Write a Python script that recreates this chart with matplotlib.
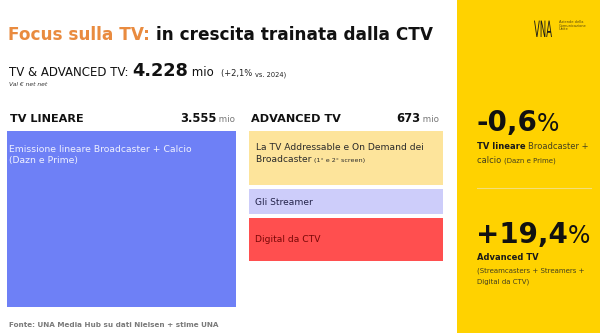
import matplotlib.pyplot as plt
from matplotlib.patches import Rectangle, PathPatch
from matplotlib.textpath import TextPath
from matplotlib.font_manager import FontProperties
from matplotlib.transforms import Affine2D

# valori (mln €)
totale = 4228
crescita_totale = "+2,1%"
tv_lineare = 3555
advanced_tv = 673
advanced_segmenti = ["La TV Addressable e On Demand dei\nBroadcaster", "Gli Streamer", "Digital da CTV"]
advanced_valori = [298, 138, 237]   # stima della ripartizione
var_lineare = "-0,6"
var_advanced = "+19,4"

plt.rcParams["font.family"] = ["DejaVu Sans"]

W, H = 600, 333
fig = plt.figure(figsize=(W / 100, H / 100), dpi=100)
ax = fig.add_axes([0, 0, 1, 1])
ax.set_xlim(0, W)
ax.set_ylim(H, 0)
ax.axis("off")
renderer = fig.canvas.get_renderer()


def riga(x, y, pezzi):
    # scrive più pezzi di testo uno dopo l'altro sulla stessa linea di base
    for testo, kw in pezzi:
        t = ax.text(x, y, testo, ha="left", va="baseline", **kw)
        x += t.get_window_extent(renderer).width
    return x


def righe(x, y, testo, passo, **kw):
    # testo su più righe, una linea di base ogni `passo` pixel
    for i, r in enumerate(testo.split("\n")):
        ax.text(x, y + i * passo, r, ha="left", va="baseline", **kw)


def fmt(v):
    return f"{v:,}".replace(",", ".")


# titolo
riga(8, 40, [("Focus sulla TV: ", dict(fontsize=12.2, weight="bold", color="#E98B3F")),
             ("in crescita trainata dalla CTV", dict(fontsize=12.2, weight="bold", color="#111111"))])

riga(9, 76, [("TV & ADVANCED TV: ", dict(fontsize=8.5, color="#111111")),
             (fmt(totale), dict(fontsize=12.8, weight="heavy", color="#111111")),
             (" mio  ", dict(fontsize=8.5, color="#111111")),
             ("(" + crescita_totale + " ", dict(fontsize=6.0, color="#222222")),
             ("vs. 2024)", dict(fontsize=4.8, color="#222222"))])
ax.text(9, 86, "Val € net net", fontsize=4.3, style="italic", color="#333333", va="baseline")

# colonna TV lineare
ax.text(10, 122, "TV LINEARE", fontsize=8.1, weight="bold", color="#111111", va="baseline")
riga(180, 122, [(fmt(tv_lineare), dict(fontsize=8.3, weight="bold", color="#111111")),
                (" mio", dict(fontsize=6.3, color="#777777"))])
ax.add_patch(Rectangle((7, 131), 229, 176, color="#6E80F6", lw=0))
righe(9, 152, "Emissione lineare Broadcaster + Calcio\n(Dazn e Prime)", 11.5, fontsize=6.7,
      color="#EEF0FF")

# colonna Advanced TV
ax.text(251, 122, "ADVANCED TV", fontsize=8.1, weight="bold", color="#111111", va="baseline")
riga(396, 122, [(fmt(advanced_tv), dict(fontsize=8.3, weight="bold", color="#111111")),
                (" mio", dict(fontsize=6.3, color="#777777"))])

colori = ["#FDE49B", "#CDCDFA", "#FF4F4F"]
colori_testo = ["#2A2A2A", "#23234A", "#7A0808"]
altezza_col = 130          # pixel dell'intera colonna (spazi inclusi)
gap = 3.5
scala = (altezza_col - gap * (len(advanced_valori) - 1)) / sum(advanced_valori)
y = 131
for nome, v, c, ct in zip(advanced_segmenti, advanced_valori, colori, colori_testo):
    h = v * scala
    ax.add_patch(Rectangle((249, y), 194, h, color=c, lw=0))
    if "\n" in nome:
        prima, seconda = nome.split("\n")
        ax.text(256, y + 19, prima, fontsize=6.6, color=ct, va="baseline")
        riga(256, y + 31, [(seconda + " ", dict(fontsize=6.6, color=ct)),
                           ("(1° e 2° screen)", dict(fontsize=4.6, color=ct))])
    else:
        ax.text(255, y + h / 2 + 3, nome, fontsize=6.6, color=ct, va="baseline")
    y += h + gap

ax.text(9, 327, "Fonte: UNA Media Hub su dati Nielsen + stime UNA", fontsize=5.2,
        weight="bold", color="#7A7A7A", va="baseline")

# pannello giallo
ax.add_patch(Rectangle((457, 0), W - 457, H, color="#FFD200", lw=0))
# logo: lettere alte e strette
logo = TextPath((0, 0), "VNA", size=10, prop=FontProperties(family="DejaVu Sans"))
logo = Affine2D().scale(0.85, -2.25).translate(534, 37).transform_path(logo)
ax.add_patch(PathPatch(logo, facecolor="#1A1A1A", lw=0))
righe(559, 23, "Aziende della\nComunicazione\nUnite", 3.6, fontsize=2.6, color="#5A4A10")

riga(476, 131, [(var_lineare, dict(fontsize=20, weight="bold", color="#111111")),
                ("%", dict(fontsize=17, color="#111111"))])
riga(477, 149, [("TV lineare ", dict(fontsize=6.0, weight="bold", color="#1A1A1A")),
                ("Broadcaster +", dict(fontsize=6.0, color="#444020"))])
riga(477, 163, [("calcio ", dict(fontsize=6.0, color="#444020")),
                ("(Dazn e Prime)", dict(fontsize=5.0, color="#444020"))])
ax.plot([477, 591], [188, 188], color="#F3DE7A", lw=0.8)

riga(476, 243, [(var_advanced, dict(fontsize=20, weight="bold", color="#111111")),
                ("%", dict(fontsize=17, color="#111111"))])
ax.text(477, 260, "Advanced TV", fontsize=6.0, weight="bold", color="#1A1A1A", va="baseline")
righe(477, 272, "(Streamcasters + Streamers +\nDigital da CTV)", 11.5, fontsize=5.0, color="#444020")

fig.savefig("out.png", dpi=100)
